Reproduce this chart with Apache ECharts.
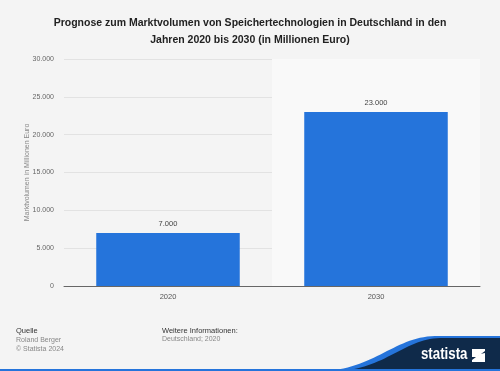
<!DOCTYPE html>
<html><head><meta charset="utf-8">
<script src="https://cdn.jsdelivr.net/npm/echarts@6/dist/echarts.min.js"></script>
<style>html,body{margin:0;padding:0;background:#f4f4f4;}#c{width:500px;height:371px;}</style>
</head><body><div id="c"></div>
<script>
const titleText = 'Prognose zum Marktvolumen von Speichertechnologien in Deutschland in den\nJahren 2020 bis 2030 (in Millionen Euro)';
const categories = ['2020', '2030'];
const values = [7000, 23000];
const yAxisName = 'Marktvolumen in Millionen Euro';
const yMax = 30000, yInterval = 5000;
const fmt = v => String(v).replace(/\B(?=(\d{3})+(?!\d))/g, '.');

function wave(x0, y0, c1x, c1y, c2x, c2y, x1, y1) {
  const pts = [];
  for (let i = 0; i <= 30; i++) {
    const t = i / 30, u = 1 - t;
    pts.push([u*u*u*x0 + 3*u*u*t*c1x + 3*u*t*t*c2x + t*t*t*x1,
              u*u*u*y0 + 3*u*u*t*c1y + 3*u*t*t*c2y + t*t*t*y1]);
  }
  pts.push([500, y1], [500, 371], [x0, 371]);
  return pts;
}

const chart = echarts.init(document.getElementById('c'));
chart.setOption({
  backgroundColor: '#f4f4f4',
  animation: false,
  title: { text: titleText, left: 'center', top: 10, textStyle: { fontFamily: 'Liberation Sans, Arial', fontSize: 10.5, fontWeight: 'bold', color: '#222', lineHeight: 17 } },
  grid: { left: 64, right: 20, top: 59, bottom: 85 },
  xAxis: { type: 'category', data: categories,
    axisLine: { lineStyle: { color: '#666', width: 1 } }, axisTick: { show: false },
    axisLabel: { color: '#555', fontSize: 7.5, fontFamily: 'Liberation Sans, Arial', margin: 7 },
    splitArea: { show: true, areaStyle: { color: ['rgba(0,0,0,0)', '#f9f9f9'] } } },
  yAxis: { type: 'value', min: 0, max: yMax, interval: yInterval,
    name: yAxisName, nameLocation: 'middle', nameGap: 33, nameMoveOverlap: false,
    nameTextStyle: { color: '#888', fontSize: 7, fontFamily: 'Liberation Sans, Arial' },
    axisLine: { show: false }, axisTick: { show: false },
    axisLabel: { color: '#666', fontSize: 7, fontFamily: 'Liberation Sans, Arial', margin: 10, formatter: v => fmt(v) },
    splitLine: { lineStyle: { color: '#e2e2e2', width: 1 } } },
  series: [{ type: 'bar', data: values, barWidth: '69%', itemStyle: { color: '#2574db' },
    label: { show: true, position: 'top', color: '#444', fontSize: 7.5, fontFamily: 'Liberation Sans, Arial', distance: 5, formatter: p => fmt(p.value) } }],
  graphic: [
    { type: 'text', x: 16, y: 327, style: { text: 'Quelle', fontSize: 7.5, fill: '#333', fontFamily: 'Liberation Sans, Arial' } },
    { type: 'text', x: 16, y: 336, style: { text: 'Roland Berger\n© Statista 2024', fontSize: 7, lineHeight: 9, fill: '#888', fontFamily: 'Liberation Sans, Arial' } },
    { type: 'text', x: 162, y: 327, style: { text: 'Weitere Informationen:', fontSize: 7.5, fill: '#333', fontFamily: 'Liberation Sans, Arial' } },
    { type: 'text', x: 162, y: 336, style: { text: 'Deutschland; 2020', fontSize: 7, fill: '#888', fontFamily: 'Liberation Sans, Arial' } },
    { type: 'polygon', shape: { points: wave(325, 371, 375, 368, 395, 337, 435, 336) }, style: { fill: '#2574db' } },
    { type: 'polygon', shape: { points: wave(340, 371, 385, 368, 405, 339, 440, 338) }, style: { fill: '#0f2a4a' } },
    { type: 'rect', shape: { x: 0, y: 369, width: 500, height: 2 }, style: { fill: '#2574db' } },
    { type: 'text', x: 421, y: 346, scaleX: 0.78, style: { text: 'statista', fontSize: 17, fontWeight: 'bold', fill: '#fff', fontFamily: 'Liberation Sans, Arial' } },
    { type: 'polygon', shape: { points: [[472,349],[485,349],[485,351],[477,357],[472,357]] }, style: { fill: '#fff' } },
    { type: 'polygon', shape: { points: [[485,353],[485,362],[472,362],[472,360],[480,354]] }, style: { fill: '#fff' } }
  ]
});
</script></body></html>
